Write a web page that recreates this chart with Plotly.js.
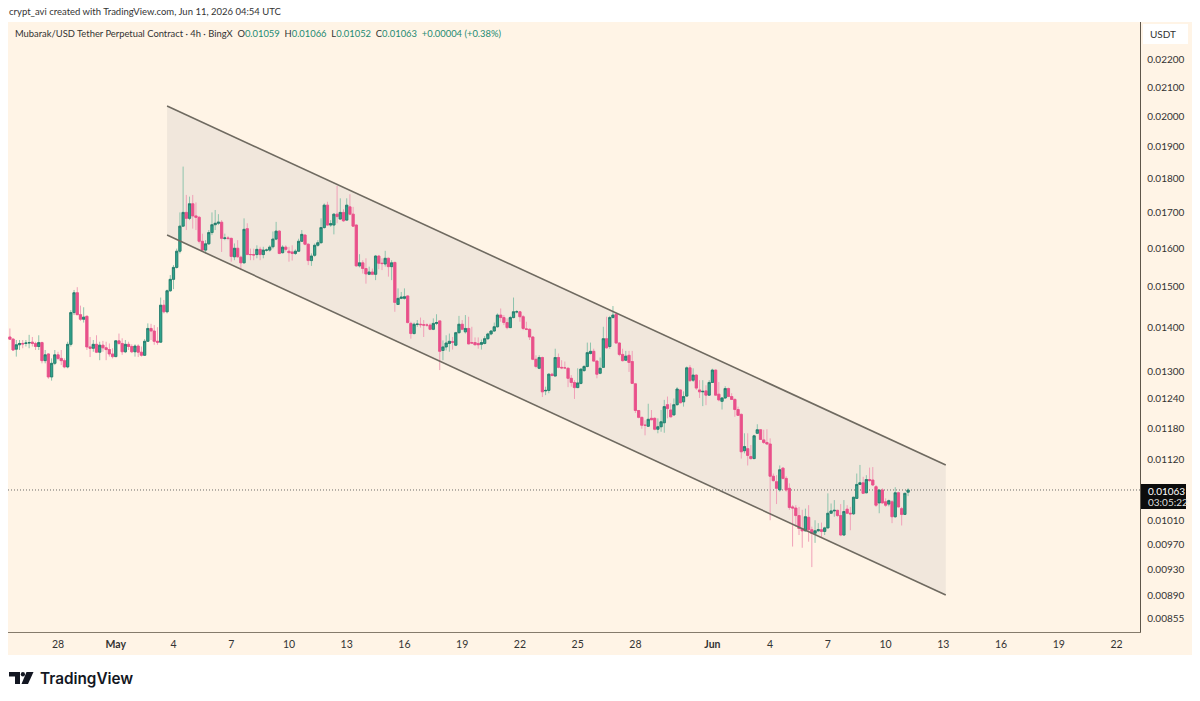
<!DOCTYPE html>
<html><head><meta charset="utf-8">
<script src="https://cdn.plot.ly/plotly-3.0.1.min.js"></script>
<style>html,body{margin:0;padding:0;background:#fff}#c{width:1200px;height:701px}</style></head>
<body><div id="c"></div>
<script>
// Prices in units of 0.00001 USDT, one value per 4h candle from 2026-04-25 12:00 UTC
const opensRaw = [
1377,1372,1349,1359,1362,1362,1363,1365,1362,1355,
1364,1323,1338,1287,1317,1336,1328,1323,1309,1360,
1435,1484,1430,1419,1426,1354,1351,1360,1342,1358,
1352,1348,1338,1332,1368,1362,1343,1360,1355,1343,
1356,1342,1335,1367,1397,1391,1367,1365,1453,1437,
1489,1518,1549,1592,1661,1700,1683,1725,1690,1686,
1619,1595,1612,1643,1665,1669,1672,1627,1628,1627,
1577,1600,1576,1561,1654,1583,1583,1583,1597,1583,
1595,1595,1604,1625,1647,1588,1603,1592,1590,1586,
1592,1619,1636,1611,1567,1581,1608,1615,1657,1721,
1664,1664,1695,1681,1700,1678,1716,1695,1664,1553,
1561,1546,1531,1537,1531,1579,1560,1558,1573,1551,
1562,1455,1470,1470,1476,1409,1385,1407,1407,1406,
1405,1405,1395,1409,1415,1346,1354,1362,1366,1358,
1387,1407,1389,1397,1364,1364,1362,1360,1362,1373,
1384,1391,1401,1429,1423,1411,1399,1423,1437,1437,
1425,1396,1395,1377,1326,1306,1330,1257,1258,1293,
1289,1330,1308,1307,1306,1284,1275,1264,1273,1301,
1310,1339,1344,1322,1295,1308,1373,1355,1423,1431,
1363,1337,1324,1335,1321,1272,1216,1202,1186,1184,
1200,1200,1178,1183,1191,1228,1217,1207,1228,1259,
1234,1246,1307,1280,1291,1259,1255,1257,1248,1275,
1302,1250,1235,1242,1262,1245,1239,1218,1208,1136,
1140,1125,1121,1170,1177,1157,1152,1149,1088,1078,
1063,1103,1084,1066,1033,1031,1018,996,992,1015,
994,988,992,994,991,997,1022,1026,1027,1018,
985,1029,1022,1021,1048,1073,1076,1058,1082,1081,
1069,1040,1063,1042,1038,1042,1016,1058,1030,1020,
1059];
const highsRaw = [
1397,1374,1370,1370,1370,1370,1382,1377,1366,1381,
1366,1347,1340,1328,1347,1343,1347,1328,1366,1441,
1491,1498,1452,1448,1428,1377,1370,1381,1366,1368,
1366,1362,1351,1370,1385,1374,1370,1366,1360,1360,
1360,1355,1372,1409,1408,1405,1400,1472,1466,1492,
1529,1555,1599,1700,1837,1751,1746,1751,1729,1690,
1640,1622,1650,1700,1707,1695,1678,1640,1633,1629,
1613,1622,1580,1683,1669,1599,1599,1608,1604,1604,
1599,1608,1646,1673,1650,1608,1608,1604,1608,1597,
1626,1650,1639,1613,1586,1613,1622,1683,1726,1731,
1678,1697,1778,1741,1709,1741,1753,1716,1666,1584,
1568,1573,1551,1546,1582,1582,1573,1593,1575,1568,
1564,1495,1486,1495,1478,1413,1411,1417,1423,1417,
1409,1409,1421,1431,1416,1369,1381,1385,1377,1389,
1427,1417,1429,1425,1401,1376,1376,1371,1379,1387,
1393,1411,1433,1445,1429,1421,1427,1472,1441,1439,
1429,1413,1397,1379,1335,1335,1332,1266,1295,1296,
1350,1339,1324,1321,1308,1291,1280,1306,1306,1313,
1364,1364,1350,1324,1330,1401,1425,1427,1451,1435,
1365,1350,1345,1345,1345,1274,1217,1203,1196,1230,
1217,1202,1200,1217,1238,1245,1231,1241,1265,1260,
1256,1310,1313,1306,1293,1280,1280,1269,1280,1305,
1303,1276,1244,1267,1264,1252,1241,1224,1210,1170,
1170,1147,1167,1188,1178,1177,1178,1160,1093,1090,
1108,1105,1088,1075,1036,1036,1033,1028,1030,1036,
999,1010,1005,1006,999,1057,1039,1045,1028,1038,
1045,1036,1033,1051,1093,1109,1087,1090,1104,1105,
1072,1064,1066,1048,1046,1045,1068,1060,1033,1058,
1066];
const lowsRaw = [
1370,1345,1332,1347,1351,1355,1351,1355,1347,1347,
1317,1317,1283,1279,1313,1324,1313,1306,1306,1355,
1429,1429,1415,1411,1347,1331,1343,1340,1324,1343,
1324,1332,1328,1331,1359,1336,1340,1347,1340,1332,
1331,1332,1336,1366,1370,1359,1359,1366,1433,1433,
1486,1493,1546,1586,1659,1650,1678,1654,1650,1613,
1590,1586,1609,1636,1650,1664,1590,1622,1622,1564,
1568,1575,1542,1560,1582,1568,1568,1573,1568,1573,
1591,1591,1599,1622,1584,1586,1591,1564,1567,1582,
1590,1617,1608,1555,1553,1577,1604,1613,1654,1662,
1659,1638,1669,1680,1673,1676,1692,1659,1551,1549,
1533,1507,1529,1529,1516,1544,1542,1551,1525,1516,
1437,1454,1468,1467,1409,1373,1383,1401,1399,1377,
1401,1393,1393,1405,1302,1324,1346,1343,1348,1356,
1385,1393,1385,1360,1362,1358,1350,1348,1360,1370,
1381,1389,1399,1413,1405,1395,1398,1421,1433,1413,
1393,1393,1370,1324,1306,1304,1244,1248,1252,1289,
1289,1306,1304,1306,1265,1266,1240,1263,1271,1298,
1308,1337,1321,1284,1293,1308,1350,1350,1421,1362,
1333,1321,1323,1298,1272,1211,1200,1179,1166,1183,
1197,1176,1170,1173,1171,1200,1202,1205,1226,1231,
1224,1245,1276,1276,1259,1242,1225,1227,1247,1274,
1247,1235,1218,1240,1244,1238,1203,1205,1121,1131,
1108,1119,1120,1169,1157,1149,1147,1010,1078,1038,
1060,1082,1060,1028,966,999,985,964,991,974,
933,972,991,980,985,996,1022,1016,1016,983,
984,1022,993,1019,1047,1072,1056,1057,1078,1070,
1033,1022,1039,1033,1034,1005,1014,1032,1001,1020,
1052];
const closesRaw = [
1372,1347,1359,1362,1361,1363,1364,1362,1355,1364,
1323,1336,1287,1317,1336,1328,1323,1309,1360,1435,
1484,1430,1419,1424,1354,1351,1360,1342,1358,1352,
1348,1338,1332,1368,1362,1343,1360,1355,1343,1356,
1342,1335,1367,1397,1391,1367,1365,1453,1437,1489,
1518,1549,1592,1661,1700,1683,1725,1690,1686,1619,
1595,1612,1643,1665,1669,1672,1627,1628,1627,1578,
1600,1577,1561,1652,1583,1583,1582,1597,1583,1595,
1595,1603,1625,1647,1586,1603,1597,1588,1586,1592,
1619,1638,1611,1567,1579,1608,1615,1657,1721,1664,
1668,1695,1688,1700,1676,1721,1695,1661,1553,1561,
1546,1532,1537,1531,1579,1560,1559,1573,1551,1561,
1460,1470,1473,1474,1411,1385,1407,1407,1406,1405,
1405,1395,1409,1411,1344,1354,1363,1367,1365,1387,
1407,1395,1397,1361,1363,1359,1359,1364,1373,1384,
1391,1401,1429,1423,1411,1399,1423,1437,1437,1425,
1397,1395,1377,1326,1310,1330,1255,1258,1293,1290,
1330,1308,1307,1307,1284,1275,1264,1274,1304,1310,
1341,1344,1322,1293,1306,1373,1352,1423,1429,1363,
1337,1323,1333,1319,1273,1216,1202,1186,1186,1198,
1197,1178,1183,1193,1224,1220,1203,1228,1261,1232,
1245,1307,1279,1291,1263,1255,1256,1248,1275,1302,
1248,1238,1242,1262,1245,1239,1218,1206,1134,1144,
1127,1121,1165,1177,1158,1152,1149,1088,1080,1066,
1100,1084,1063,1032,1031,1018,996,992,1016,994,
988,992,994,991,997,1022,1026,1027,1018,985,
1025,1022,1021,1050,1073,1076,1057,1082,1080,1072,
1036,1063,1040,1036,1044,1016,1058,1033,1020,1057,
1063];
const priceTicks = [0.022,0.021,0.020,0.019,0.018,0.017,0.016,0.015,0.014,0.013,0.0124,0.0118,0.0112,0.0101,0.0097,0.0093,0.0089,0.00855];
const tickLabels = ['0.02200','0.02100','0.02000','0.01900','0.01800','0.01700','0.01600','0.01500','0.01400','0.01300','0.01240','0.01180','0.01120','0.01010','0.00970','0.00930','0.00890','0.00855'];
const dateTicks = ['2026-04-28','2026-05-01','2026-05-04','2026-05-07','2026-05-10','2026-05-13','2026-05-16','2026-05-19','2026-05-22','2026-05-25','2026-05-28','2026-06-01','2026-06-04','2026-06-07','2026-06-10','2026-06-13','2026-06-16','2026-06-19','2026-06-22'];
const dateLabels = ['28','<b>May</b>','4','7','10','13','16','19','22','25','28','<b>Jun</b>','4','7','10','13','16','19','22'];
const channelDates = ['2026-05-03 16:00','2026-06-13 03:00'];
const channelUpper = [0.02035,0.01109];
const channelLower = [0.01636,0.00890];
const lastPrice = 0.01063;
const firstCandle = '2026-04-25T12:00:00Z';

const toPrice = a => a.map(v => v / 100000);
const opens = toPrice(opensRaw), highs = toPrice(highsRaw), lows = toPrice(lowsRaw), closes = toPrice(closesRaw);
const STEP = 4 * 3600 * 1000;
const iso = ms => new Date(ms).toISOString().slice(0, 19).replace('T', ' ');
const dates = opens.map((_, i) => iso(Date.parse(firstCandle) + i * STEP));
const xLeft = iso(Date.parse('2026-04-28T00:00:00Z') - 15.59 * STEP);
const xRight = iso(Date.parse('2026-04-28T00:00:00Z') + 337.3 * STEP);

const CREAM = '#fff4e6', GREEN = '#30a58c', GREEN_D = '#23776a', GREEN_W = '#8ec4ad', PINK = '#e9508a', PINK_W = '#f0a0b8';
const FONT = 'Lato, sans-serif';
const px = x => (x - 8) / 1132, py = y => (632 - y) / 610;
const rect = (x0, y0, x1, y1, fill, layer) => ({type:'rect', xref:'paper', yref:'paper', x0:px(x0), x1:px(x1), y0:py(y0), y1:py(y1), fillcolor:fill, line:{width:0}, layer:layer||'below'});
const paperPath = (pts, fill) => ({type:'path', xref:'paper', yref:'paper', path:'M' + pts.map(p => px(p[0]) + ',' + py(p[1])).join(' L') + ' Z', fillcolor:fill, line:{width:0}, layer:'above'});
const note = (x, y, text, size, color, extra) => Object.assign({xref:'paper', yref:'paper', x:px(x), y:py(y), text, showarrow:false, xanchor:'left', yanchor:'middle', borderpad:0, font:{family:FONT, size, color}}, extra||{});
const val = t => '<span style="color:#1c8a72">' + t + '</span>';
const pathDate = d => d.replace(' ', '_');

const traces = [
 {type:'candlestick', x:dates, open:opens, high:highs, low:lows, close:closes, hoverinfo:'skip', showlegend:false, whiskerwidth:0,
  increasing:{line:{color:GREEN_W, width:1}, fillcolor:GREEN_W}, decreasing:{line:{color:PINK_W, width:1}, fillcolor:PINK_W}},
 {type:'candlestick', x:dates, open:opens, close:closes, high:opens.map((o,i)=>Math.max(o,closes[i])), low:opens.map((o,i)=>Math.min(o,closes[i])), hoverinfo:'skip', showlegend:false, whiskerwidth:0,
  increasing:{line:{color:GREEN_D, width:0.8}, fillcolor:GREEN}, decreasing:{line:{color:PINK, width:0.8}, fillcolor:PINK}},
 {type:'scatter', mode:'lines', x:channelDates, y:channelUpper, line:{color:'#6f6a60', width:1.6}, hoverinfo:'skip', showlegend:false},
 {type:'scatter', mode:'lines', x:channelDates, y:channelLower, line:{color:'#6f6a60', width:1.6}, hoverinfo:'skip', showlegend:false}
];

const layout = {
 width:1200, height:701, margin:{l:8, r:60, t:22, b:69, pad:0},
 paper_bgcolor:'#ffffff', plot_bgcolor:CREAM, showlegend:false, boxgap:0.02,
 xaxis:{type:'date', range:[xLeft, xRight], rangeslider:{visible:false}, showgrid:false, zeroline:false, tickmode:'array', tickvals:dateTicks, ticktext:dateLabels, ticks:'', ticklabelstandoff:2, tickfont:{family:FONT, size:10.5, color:'#333'}, showline:true, linecolor:'#857b6c', linewidth:1.2, automargin:false, tickangle:0},
 yaxis:{type:'log', side:'right', range:[Math.log10(0.00836), Math.log10(0.02346)], showgrid:false, zeroline:false, tickmode:'array', tickvals:priceTicks, ticktext:tickLabels, ticks:'', ticklabelstandoff:4, tickfont:{family:FONT, size:10, color:'#333'}, showline:true, linecolor:'#5e564a', linewidth:1.2, automargin:false},
 shapes:[
  rect(1140,22,1192,632,CREAM), rect(8,632,1192,655,CREAM),
  {type:'path', xref:'x', yref:'y', layer:'below', fillcolor:'rgba(80,94,105,0.08)', line:{width:0},
   path:'M'+pathDate(channelDates[0])+','+channelUpper[0]+' L'+pathDate(channelDates[1])+','+channelUpper[1]+' L'+pathDate(channelDates[1])+','+channelLower[1]+' L'+pathDate(channelDates[0])+','+channelLower[0]+' Z'},
  {type:'line', xref:'paper', yref:'y', x0:0, x1:1, y0:lastPrice, y1:lastPrice, line:{color:'#5a5a5a', width:0.9, dash:'1px,2px'}, layer:'below'},
  Object.assign(rect(1141,484,1186,509,'#0c0c0c'),{layer:'above'}),
  Object.assign(rect(1143,24,1188,44,'#ffffff'),{layer:'above'}),
  paperPath([[9,672],[20,672],[20,684],[15,684],[15,676.5],[9,676.5]],'#131722'),
  paperPath([[26.5,672],[33.5,672],[28,684],[21.5,684]],'#131722'),
  {type:'circle', xref:'paper', yref:'paper', x0:px(20.8), x1:px(25), y0:py(672), y1:py(676.4), fillcolor:'#131722', line:{width:0}, layer:'above'}
 ],
 annotations:[
  note(8,12,'crypt_avi created with TradingView.com, Jun 11, 2026 04:54 UTC',9.5,'#333'),
  note(14,33,'Mubarak/USD Tether Perpetual Contract · 4h · BingX  O'+val('0.01059')+'  H'+val('0.01066')+'  L'+val('0.01052')+'  C'+val('0.01063')+'  '+val('+0.00004 (+0.38%)'),9.4,'#333'),
  note(1149,34,'USDT',10,'#333'),
  note(1147,491,'0.01063',10,'#fff'),
  note(1147,502,'03:05:22',10,'#ddd'),
  note(39,678,'TradingView',15.3,'#131722',{font:{family:'Inter, sans-serif', size:15.3, color:'#131722', weight:600}})
 ]
};
Plotly.newPlot('c', traces, layout, {displayModeBar:false, staticPlot:true});
</script></body></html>
